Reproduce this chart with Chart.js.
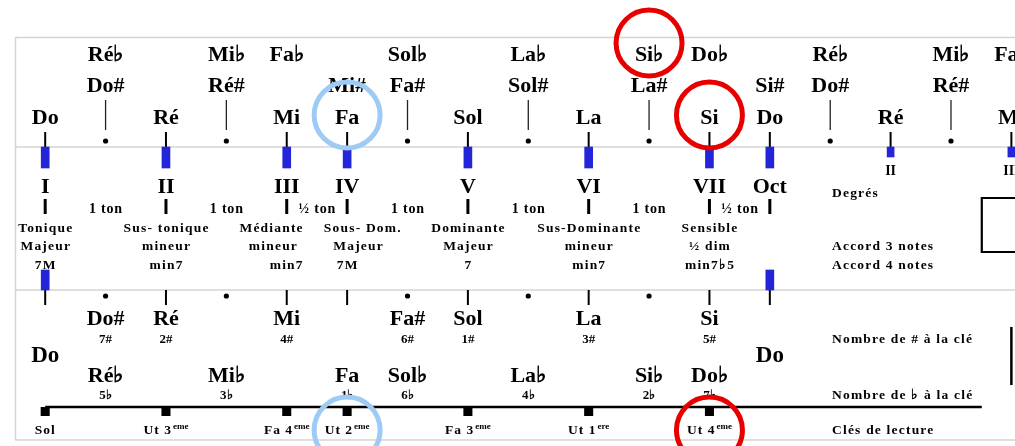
<!DOCTYPE html>
<html><head><meta charset="utf-8">
<script src="https://cdn.jsdelivr.net/npm/chart.js@4"></script>
<style>html,body{margin:0;padding:0;background:#fff;overflow:hidden}#wrap{width:1015px;height:446px;position:relative}canvas{display:block}</style>
</head><body><div id="wrap"><canvas id="c"></canvas></div>
<script>
// ---------- data (x = semitones from Do) ----------
const naturalNames = ['Do','Ré','Mi','Fa','Sol','La','Si','Do','Ré','Mi'];
const naturalPos   = [0,2,4,5,7,9,11,12,14,16];
const sharpNames   = ['Do#','Ré#','Mi#','Fa#','Sol#','La#','Si#','Do#','Ré#'];
const sharpPos     = [1,3,5,6,8,10,12,13,15];
const flatNames    = ['Ré♭','Mi♭','Fa♭','Sol♭','La♭','Si♭','Do♭','Ré♭','Mi♭','Fa♭'];
const flatPos      = [1,3,4,6,8,10,11,13,15,16];
const accidentalPos = [1,3,6,8,10,13,15];
const scalePos     = [0,2,4,5,7,9,11,12];
const nextScalePos = [14,16];
const nextDegrees  = ['II','III'];
const degreeNames  = ['I','II','III','IV','V','VI','VII','Oct'];
const stepLabels   = ['1 ton','1 ton','½ ton','1 ton','1 ton','1 ton','½ ton'];
const functionNames  = ['Tonique','Sus- tonique','Médiante','Sous- Dom.','Dominante','Sus-Dominante','Sensible'];
const triadQualities = ['Majeur','mineur','mineur','Majeur','Majeur','mineur','½ dim'];
const seventhChords  = ['7M','min7','min7','7M','7','min7','min7♭5'];
const sharpKeyNames  = ['Do#','Ré','Mi','Fa#','Sol','La','Si'];
const sharpKeyPos    = [1,2,4,6,7,9,11];
const sharpKeyCounts = ['7#','2#','4#','6#','1#','3#','5#'];
const flatKeyNames   = ['Ré♭','Mi♭','Fa','Sol♭','La♭','Si♭','Do♭'];
const flatKeyPos     = [1,3,5,6,8,10,11];
const flatKeyCounts  = ['5♭','3♭','1♭','6♭','4♭','2♭','7♭'];
const clefNames = ['Sol','Ut 3','Fa 4','Ut 2','Fa 3','Ut 1','Ut 4'];
const clefSup   = ['','eme','eme','eme','eme','ere','eme'];
const clefPos   = [0,2,4,5,7,9,11];
const rowLabels = ['Degrés','Accord 3 notes','Accord 4 notes','Nombre de # à la clé','Nombre de ♭ à la clé','Clés de lecture'];
const blueHighlights = [5,5];     // Fa (note + clef)
const redHighlights  = [10,11,11]; // Si♭, Si, Ut 4eme

// ---------- layout (y rows in scale units, top = 0) ----------
const ROW = {flat:24, sharp:55, nat:87, accTop:63, accBot:93, dot:104, natTickTop:95, sep1:110,
  barBot:131, smallBarBot:120, smallDeg:138, roman:156, stepTop:162, stepBot:177, step:176,
  degLabel:160, func:195, triad:213, seventh:232, boxTop:161, boxBot:215, lowBarTop:233, sep2:253,
  tick2Bot:268, dot2:259, sKey:288, sCount:306, bigDo:325, fKey:345, fCount:362, clefLine:370,
  clefSq:374.5, clef:397, bottom:403, vTop:290, vBot:348};
const funcCenters = [[0,0,0],[2,2,2],[3.74,3.77,3.99],[5.25,5.18,5.0],[7,7,7],[9,9,9],[11,11,11]];
const labelX = 13.03, lineEnd = 15.51, rightEdge = 16.0;
const BLUE = '#2424d8', GRAY = '#d4d4d4';

const FONT = '"Liberation Serif","Times New Roman",serif';
function txt(ctx, s, x, y, size, o = {}) {
  ctx.save();
  ctx.font = 'bold ' + size + 'px ' + FONT;
  const ls = o.ls || 0;
  ctx.letterSpacing = ls + 'px';
  ctx.textAlign = o.align || 'center';
  ctx.textBaseline = 'alphabetic';
  ctx.fillStyle = '#000';
  ctx.fillText(s, x + ((o.align || 'center') === 'center' ? ls / 2 : 0), y);
  ctx.restore();
}
function line(ctx, x1, y1, x2, y2, w, c) {
  ctx.save(); ctx.beginPath(); ctx.moveTo(x1, y1); ctx.lineTo(x2, y2);
  ctx.lineWidth = w; ctx.strokeStyle = c || '#000'; ctx.stroke(); ctx.restore();
}

const diagram = {
  id: 'diagram',
  beforeDatasetsDraw(chart) {
    const ctx = chart.ctx, X = v => chart.scales.x.getPixelForValue(v), Y = v => chart.scales.y.getPixelForValue(v);
    const a = chart.chartArea;
    // frame & separators
    line(ctx, a.left, a.top + 0.5, a.right, a.top + 0.5, 1.5, GRAY);
    line(ctx, a.left + 0.5, a.top, a.left + 0.5, a.bottom, 1.5, GRAY);
    [ROW.sep1, ROW.sep2, ROW.bottom].forEach(r => line(ctx, a.left, Y(r), a.right, Y(r), 1.5, GRAY));
    // top rows of note names
    flatNames.forEach((n, i) => txt(ctx, n, X(flatPos[i]), Y(ROW.flat), 22));
    sharpNames.forEach((n, i) => txt(ctx, n, X(sharpPos[i]), Y(ROW.sharp), 22));
    naturalNames.forEach((n, i) => txt(ctx, n, X(naturalPos[i]), Y(ROW.nat), 22));
    accidentalPos.forEach(p => line(ctx, X(p), Y(ROW.accTop), X(p), Y(ROW.accBot), 1.3, '#222'));
    naturalPos.forEach(p => line(ctx, X(p), Y(ROW.natTickTop), X(p), Y(ROW.sep1), 2));
    // degrees
    degreeNames.forEach((n, i) => txt(ctx, n, X(scalePos[i]), Y(ROW.roman), 22));
    nextDegrees.forEach((n, i) => txt(ctx, n, X(nextScalePos[i]), Y(ROW.smallDeg), 14));
    scalePos.forEach(p => line(ctx, X(p), Y(ROW.stepTop), X(p), Y(ROW.stepBot), 3));
    stepLabels.forEach((s, i) => txt(ctx, s, (X(scalePos[i]) + X(scalePos[i + 1])) / 2, Y(ROW.step), 14, {ls: 0.8}));
    functionNames.forEach((s, i) => txt(ctx, s, X(funcCenters[i][0]), Y(ROW.func), 13.5, {ls: 1.2}));
    triadQualities.forEach((s, i) => txt(ctx, s, X(funcCenters[i][1]), Y(ROW.triad), 13.5, {ls: 1.2}));
    seventhChords.forEach((s, i) => txt(ctx, s, X(funcCenters[i][2]), Y(ROW.seventh), 13.5, {ls: 1.2}));
    // right column labels
    const rl = [ROW.degLabel, ROW.triad, ROW.seventh, ROW.sCount, ROW.fCount, ROW.clef];
    rowLabels.forEach((s, i) => txt(ctx, s, X(labelX), Y(rl[i]), 13.5, {align: 'left', ls: 1.2}));
    // box at right
    ctx.save(); ctx.beginPath();
    ctx.moveTo(a.right + 5, Y(ROW.boxTop)); ctx.lineTo(X(lineEnd), Y(ROW.boxTop));
    ctx.lineTo(X(lineEnd), Y(ROW.boxBot)); ctx.lineTo(a.right + 5, Y(ROW.boxBot));
    ctx.lineWidth = 2.2; ctx.strokeStyle = '#000'; ctx.stroke(); ctx.restore();
    line(ctx, X(rightEdge), Y(ROW.vTop), X(rightEdge), Y(ROW.vBot), 2.5);
    // lower section
    scalePos.forEach(p => line(ctx, X(p), Y(ROW.sep2), X(p), Y(ROW.tick2Bot), 2));
    sharpKeyNames.forEach((n, i) => txt(ctx, n, X(sharpKeyPos[i]), Y(ROW.sKey), 22));
    sharpKeyCounts.forEach((n, i) => txt(ctx, n, X(sharpKeyPos[i]), Y(ROW.sCount), 13));
    txt(ctx, 'Do', X(scalePos[0]), Y(ROW.bigDo), 23);
    txt(ctx, 'Do', X(scalePos[7]), Y(ROW.bigDo), 23);
    flatKeyNames.forEach((n, i) => txt(ctx, n, X(flatKeyPos[i]), Y(ROW.fKey), 22));
    flatKeyCounts.forEach((n, i) => txt(ctx, n, X(flatKeyPos[i]), Y(ROW.fCount), 13));
    line(ctx, X(0), Y(ROW.clefLine), X(lineEnd), Y(ROW.clefLine), 2.5);
    clefNames.forEach((n, i) => {
      ctx.save(); ctx.font = 'bold 13.5px ' + FONT; ctx.letterSpacing = '1px';
      const w1 = ctx.measureText(n).width;
      ctx.font = 'bold 9px ' + FONT; ctx.letterSpacing = '0px';
      const w2 = clefSup[i] ? ctx.measureText(clefSup[i]).width + 1 : 0;
      ctx.restore();
      const x0 = X(clefPos[i]) - (w1 + w2) / 2;
      txt(ctx, n, x0, Y(ROW.clef), 13.5, {align: 'left', ls: 1});
      if (clefSup[i]) txt(ctx, clefSup[i], x0 + w1 + 1, Y(ROW.clef) - 5, 9, {align: 'left'});
    });
  },
  afterDatasetsDraw(chart) {
    const ctx = chart.ctx, X = v => chart.scales.x.getPixelForValue(v), Y = v => chart.scales.y.getPixelForValue(v);
    const circ = (x, y, c) => { ctx.save(); ctx.beginPath(); ctx.arc(x, y, 33, 0, Math.PI * 2);
      ctx.lineWidth = 5; ctx.strokeStyle = c; ctx.stroke(); ctx.restore(); };
    circ(X(blueHighlights[0]), Y(ROW.nat) - 9, '#9dcbf5');
    circ(X(blueHighlights[1]), Y(ROW.clef) - 4, '#9dcbf5');
    circ(X(redHighlights[0]), Y(ROW.flat) - 18, '#e80000');
    circ(X(redHighlights[1]), Y(ROW.nat) - 9, '#e80000');
    circ(X(redHighlights[2]), Y(ROW.clef) - 4, '#e80000');
  }
};

const bars = scalePos.map(p => ({x: p, y: [ROW.sep1, ROW.barBot]}));
const smallBars = nextScalePos.map(p => ({x: p, y: [ROW.sep1, ROW.smallBarBot]}));
const lowBars = [scalePos[0], scalePos[7]].map(p => ({x: p, y: [ROW.lowBarTop, ROW.sep2]}));

new Chart(document.getElementById('c'), {
  type: 'scatter',
  data: { datasets: [
    {type: 'bar', data: bars, backgroundColor: BLUE, barThickness: 8, grouped: false},
    {type: 'bar', data: smallBars, backgroundColor: BLUE, barThickness: 7, grouped: false},
    {type: 'bar', data: lowBars, backgroundColor: BLUE, barThickness: 8, grouped: false},
    {data: accidentalPos.map(p => ({x: p, y: ROW.dot})), pointRadius: 2.6, backgroundColor: '#000', borderWidth: 0},
    {data: accidentalPos.slice(0, 5).map(p => ({x: p, y: ROW.dot2})), pointRadius: 2.6, backgroundColor: '#000', borderWidth: 0},
    {data: clefPos.map(p => ({x: p, y: ROW.clefSq})), pointStyle: 'rect', pointRadius: 6.4, backgroundColor: '#000', borderWidth: 0}
  ]},
  options: {
    responsive: true, maintainAspectRatio: false, animation: false,
    layout: {autoPadding: false, padding: {left: 15, top: 37, right: 0, bottom: 6}},
    plugins: {legend: {display: false}, tooltip: {enabled: false}},
    events: [],
    scales: {
      x: {type: 'linear', min: -0.5, max: 16.06, display: false, offset: false},
      y: {type: 'linear', min: 0, max: 403, reverse: true, display: false}
    }
  },
  plugins: [diagram]
});
</script></body></html>
